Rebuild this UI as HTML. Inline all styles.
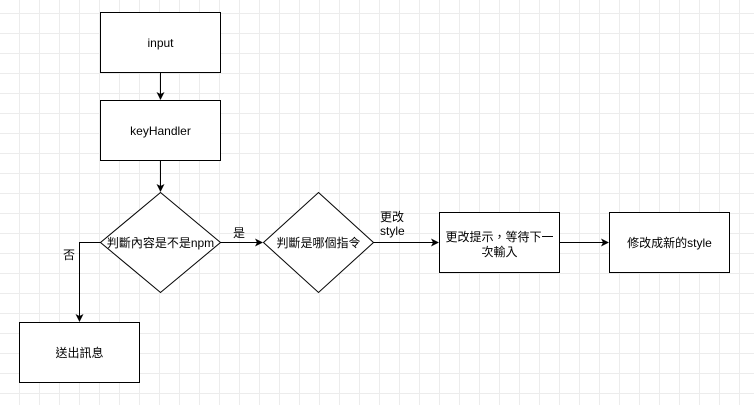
<!DOCTYPE html>
<html><head><meta charset="utf-8"><style>
html,body{margin:0;padding:0;}
body{width:754px;height:400px;overflow:hidden;background:#fff;
background-image:linear-gradient(#ececec 1px,transparent 1px),linear-gradient(90deg,#ececec 1px,transparent 1px);
background-size:20px 20px;background-position:-1px -7px;}
svg text{font-family:"Liberation Sans","Noto Sans CJK TC",sans-serif;font-size:12px;fill:#000;}
</style></head><body>
<svg width="754" height="400" xmlns="http://www.w3.org/2000/svg">
<defs><marker id="a" markerWidth="8" markerHeight="8" refX="7" refY="4" orient="auto" markerUnits="userSpaceOnUse"><path d="M0,0 L8,4 L0,8 L2,4 Z" fill="#000"/></marker></defs>
<g fill="#fff" stroke="#000" stroke-width="1">
<rect x="100.5" y="12.5" width="120" height="60"/>
<rect x="100.5" y="100.5" width="120" height="60"/>
<polygon points="160.5,192.5 220.5,242.5 160.5,292.5 100.5,242.5"/>
<polygon points="318.5,192.5 373.5,242.5 318.5,292.5 263.5,242.5"/>
<rect x="439.5" y="212.5" width="120" height="60"/>
<rect x="609.5" y="212.5" width="120" height="60"/>
<rect x="19.5" y="322.5" width="120" height="60"/>
</g>
<g stroke="#000" fill="none" stroke-width="1">
<line x1="160.5" y1="72.5" x2="160.5" y2="99" marker-end="url(#a)"/>
<line x1="160.5" y1="160.5" x2="160.5" y2="191" marker-end="url(#a)"/>
<line x1="220.5" y1="242.5" x2="262" y2="242.5" marker-end="url(#a)"/>
<line x1="373.5" y1="242.5" x2="438" y2="242.5" marker-end="url(#a)"/>
<line x1="559.5" y1="242.5" x2="608" y2="242.5" marker-end="url(#a)"/>
<polyline points="100.5,242.5 79.5,242.5 79.5,321" marker-end="url(#a)"/>
</g>
<text x="160.5" y="47" text-anchor="middle">input</text>
<text x="160.5" y="135" text-anchor="middle">keyHandler</text>
<text x="160.5" y="247" text-anchor="middle">判斷內容是不是npm</text>
<text x="318.5" y="247" text-anchor="middle">判斷是哪個指令</text>
<text x="239" y="237" text-anchor="middle">是</text>
<text x="69" y="259" text-anchor="middle">否</text>
<text x="380" y="221">更改</text>
<text x="380" y="235">style</text>
<text x="499.5" y="241" text-anchor="middle">更改提示，等待下一</text>
<text x="499.5" y="256" text-anchor="middle">次輸入</text>
<text x="669.5" y="247" text-anchor="middle">修改成新的style</text>
<text x="79.5" y="357" text-anchor="middle">送出訊息</text>
</svg>
</body></html>
